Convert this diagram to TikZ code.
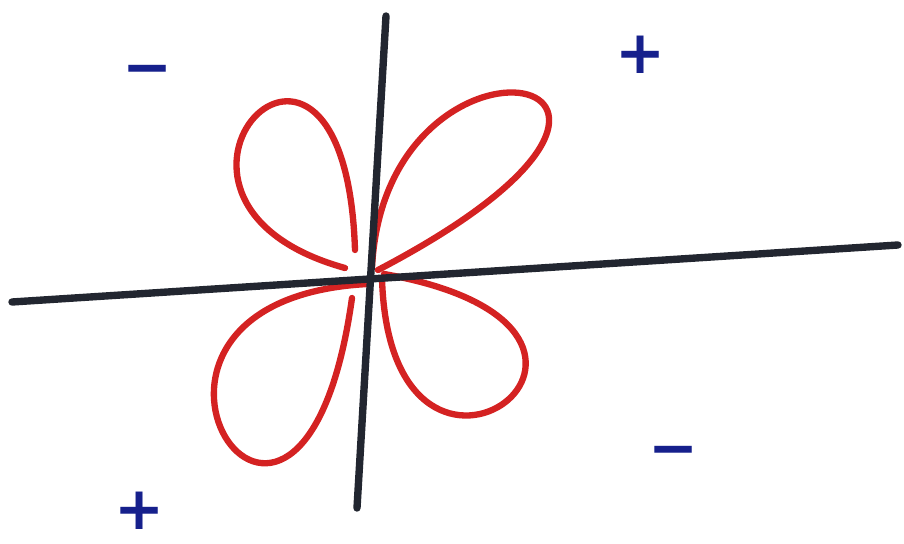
\documentclass[tikz,border=0pt]{standalone}
\usepackage{fontspec}
\newfontfamily\signfont{DejaVu Sans}
\definecolor{lobered}{RGB}{212,34,34}
\definecolor{signblue}{RGB}{22,32,140}
\definecolor{axisgray}{RGB}{34,38,48}
\tikzset{
  axis/.style={draw=axisgray, line width=4.2pt, line cap=round},
  lobe/.style={draw=lobered, line width=3.6pt, line cap=round, line join=round},
  sign/.style={text=signblue, font=\signfont\bfseries\fontsize{34}{34}\selectfont, inner sep=0pt},
}
\begin{document}
\begin{tikzpicture}[x=0.02cm, y=-0.02cm]

  % =====================================================
  % FRAME
  % =====================================================

  \useasboundingbox (0,0) rectangle (904,544);

  % =====================================================
  % LOBES
  % =====================================================

  % upper left
  \draw[lobe]
    (345,268) .. controls (100,200) and (345,-60) .. (355,250);

  % upper right
  \draw[lobe]
    (372,268) .. controls (385,0) and (760,70) .. (378,270);

  % lower left
  \draw[lobe]
    (368,284) .. controls (60,300) and (300,670) .. (352,298);

  % lower right
  \draw[lobe]
    (382,278) .. controls (390,560) and (700,330) .. (384,274);

  % =====================================================
  % AXES
  % =====================================================

  \coordinate (xl) at (12,302);
  \coordinate (xr) at (898,245);
  \coordinate (yt) at (386,16);
  \coordinate (yb) at (357,508);

  \draw[axis]
    (xl) -- (xr);

  \draw[axis]
    (yt) -- (yb);

  % =====================================================
  % SIGNS
  % =====================================================

  \node[sign] (mtl) at (148,76) {−};
  \node[sign] (ptr) at (641,55) {+};
  \node[sign] (mbr) at (674,457) {−};
  \node[sign] (pbl) at (140,511) {+};

\end{tikzpicture}
\end{document}
